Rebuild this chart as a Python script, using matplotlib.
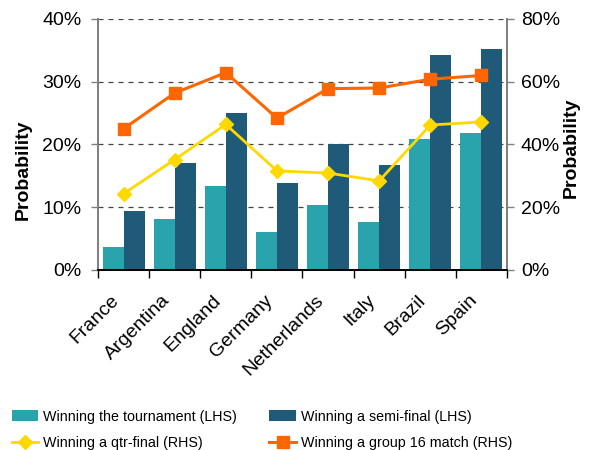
import matplotlib.pyplot as plt
import numpy as np
from matplotlib.ticker import FuncFormatter, FixedLocator
from matplotlib.transforms import ScaledTranslation

plt.rcParams['font.family'] = ['Liberation Sans', 'DejaVu Sans']

# data (in %)
countries = ['France', 'Argentina', 'England', 'Germany', 'Netherlands', 'Italy', 'Brazil', 'Spain']
win_tournament = [3.7, 8.1, 13.4, 6.1, 10.4, 7.7, 20.9, 21.8]     # LHS
win_semi = [9.4, 17.1, 25.0, 13.9, 20.1, 16.7, 34.3, 35.2]        # LHS
win_qtr = [24.3, 35.2, 46.4, 31.6, 30.9, 28.4, 46.2, 47.2]        # RHS
win_group16 = [45.0, 56.4, 62.9, 48.4, 57.8, 58.0, 60.8, 62.0]    # RHS

teal = '#29A3AC'
navy = '#1F5B79'
yellow = '#FFD800'
orange = '#FF6600'

fig = plt.figure(figsize=(5.96, 4.5), dpi=100)
ax = fig.add_axes([0.1644, 0.4, 0.8507 - 0.1644, 0.5578])
ax2 = ax.twinx()

x = np.arange(len(countries))
w = 0.41
b1 = ax.bar(x - w / 2, win_tournament, w, color=teal, label='Winning the tournament (LHS)')
b2 = ax.bar(x + w / 2, win_semi, w, color=navy, label='Winning a semi-final (LHS)')

l1, = ax2.plot(x, win_qtr, color=yellow, lw=2.0, marker='D', ms=7.5,
               label='Winning a qtr-final (RHS)')
l2, = ax2.plot(x, win_group16, color=orange, lw=2.2, marker='s', ms=8.5,
               label='Winning a group 16 match (RHS)')

ax.set_xlim(-0.5, len(countries) - 0.5)
ax.set_ylim(0, 40)
ax2.set_ylim(0, 80)
ax.set_yticks([0, 10, 20, 30, 40])
ax2.set_yticks([0, 20, 40, 60, 80])
pct = FuncFormatter(lambda v, p: f'{v:.0f}%')
ax.yaxis.set_major_formatter(pct)
ax2.yaxis.set_major_formatter(pct)

# gridlines
ax.set_axisbelow(True)
ax.yaxis.grid(True, color='#444444', lw=0.9, linestyle=(0, (4, 4)))

# x ticks: labels at centres, tick marks at boundaries
ax.set_xticks(x)
ax.set_xticklabels(countries, rotation=45, ha='right', rotation_mode='anchor', fontsize=14)
ax.tick_params(axis='x', length=0, pad=10)
shift = ScaledTranslation(-13 / 100, -8 / 100, fig.dpi_scale_trans)
for lab in ax.get_xticklabels():
    lab.set_transform(lab.get_transform() + shift)
ax.xaxis.set_minor_locator(FixedLocator(np.arange(-0.5, len(countries), 1.0)))
ax.tick_params(axis='x', which='minor', length=6, width=1, color='black')

ax.tick_params(axis='y', labelsize=14, length=5, width=1, color='#808080', pad=7)
ax2.tick_params(axis='y', labelsize=14, length=5, width=1, color='#808080', pad=5)

for a in (ax, ax2):
    a.spines['top'].set_visible(False)
    a.spines['left'].set_color('#808080')
    a.spines['right'].set_color('#808080')
    a.spines['left'].set_linewidth(1.3)
    a.spines['right'].set_linewidth(1.3)
    a.spines['bottom'].set_color('black')
    a.spines['bottom'].set_linewidth(1.3)

ax.set_ylabel('Probability', fontsize=14, fontweight='bold')
ax2.set_ylabel('Probability', fontsize=14, fontweight='bold')
ax.yaxis.set_label_coords(-0.163, 0.40)
ax2.yaxis.set_label_coords(1.137, 0.486)

fig.legend([b1, l1, b2, l2],
           [b1.get_label(), l1.get_label(), b2.get_label(), l2.get_label()],
           ncol=2, loc='upper left', bbox_to_anchor=(0.02, 0.09),
           frameon=False, fontsize=10.3, handlelength=1.85, handletextpad=0.35,
           columnspacing=2.25, labelspacing=0.9, borderpad=0, borderaxespad=0)

fig.savefig('out.png', dpi=100)
